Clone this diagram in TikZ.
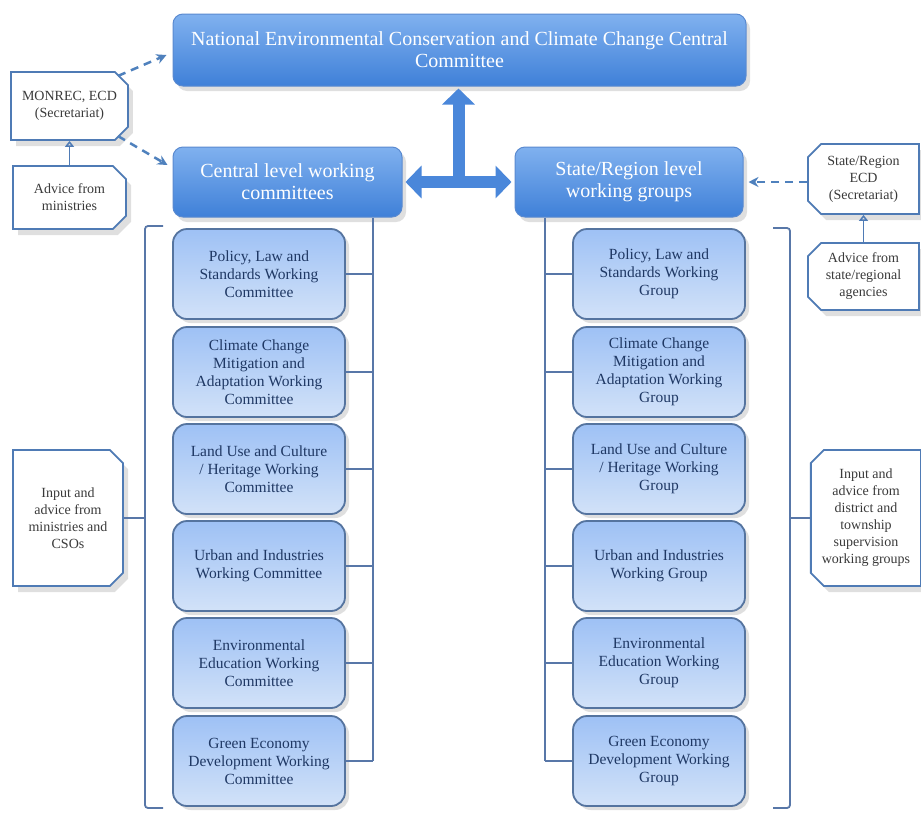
\documentclass[tikz,border=0pt]{standalone}
\usepackage{fontspec}
\setmainfont{Liberation Serif}
\usetikzlibrary{arrows.meta,shapes.misc,shadows,calc}
\definecolor{bigtop}{HTML}{80B1EF}
\definecolor{bigbot}{HTML}{3F80D8}
\definecolor{bigedge}{HTML}{5A8AD0}
\definecolor{subtop}{HTML}{9EC1F5}
\definecolor{subbot}{HTML}{D2E2F8}
\definecolor{subedge}{HTML}{55749F}
\definecolor{subtext}{HTML}{1F3864}
\definecolor{noteedge}{HTML}{4F7BB5}
\definecolor{notetext}{HTML}{3A3A3A}
\definecolor{connc}{HTML}{5877A8}
\definecolor{dashc}{HTML}{4F81BD}
\definecolor{blkc}{HTML}{4A87DA}
\tikzset{
  bigbox/.style={rounded corners=10pt, draw=bigedge, line width=1pt,
    top color=bigtop, bottom color=bigbot, text=white, align=center,
    inner sep=2pt, font=\fontsize{20}{22}\selectfont,
    drop shadow={opacity=0.25, shadow xshift=4pt, shadow yshift=-5pt}},
  subbox/.style={rounded corners=14pt, draw=subedge, line width=1.8pt,
    top color=subtop, bottom color=subbot, text=subtext, align=center,
    minimum width=172pt, minimum height=90pt, inner sep=2pt,
    font=\fontsize{15.5}{18}\selectfont,
    drop shadow={opacity=0.25, shadow xshift=4pt, shadow yshift=-4pt}},
  noteL/.style={chamfered rectangle, chamfered rectangle corners={north east,south east},
    chamfered rectangle xsep=10pt, draw=noteedge, line width=1.8pt, fill=white,
    text=notetext, align=center, inner sep=1pt, font=\fontsize{14}{17}\selectfont,
    drop shadow={opacity=0.25, shadow xshift=5pt, shadow yshift=-6pt}},
  noteR/.style={noteL, chamfered rectangle corners={north west,south west}},
  conn/.style={draw=connc, line width=1.8pt},
  dasharrow/.style={draw=dashc, line width=2.5pt, dash pattern=on 8pt off 6pt,
    -{Stealth[length=10pt,width=10pt]}},
  smallarrow/.style={draw=noteedge, line width=1.6pt, -{Triangle[open,length=6pt,width=9pt]}},
  blk/.style={draw=blkc, line width=12pt},
}
\begin{document}
\begin{tikzpicture}[x=1pt,y=-1pt]
\useasboundingbox (0,0) rectangle (921,812);
\fill[white] (0,0) rectangle (921,812);

% main boxes
\node[bigbox, minimum width=573pt, minimum height=72pt] (nat) at (459.5,50)
  {National Environmental Conservation and Climate Change Central\\Committee};
\node[bigbox, minimum width=229pt, minimum height=70pt] (cen) at (287.5,182)
  {Central level working\\committees};
\node[bigbox, minimum width=228pt, minimum height=70pt] (st) at (629,182)
  {State/Region level\\working groups};

% block arrows
\coordinate (hj) at ($(cen.east)!0.5!(st.west)$);
\draw[blk, -{Triangle[length=16pt,width=32pt]}] (hj) -- ([yshift=-2pt]hj |- nat.south);
\draw[blk, {Triangle[length=16pt,width=32pt]}-{Triangle[length=16pt,width=32pt]}]
  ([xshift=3pt]cen.east) -- ([xshift=-3pt]st.west);

% note boxes
\node[noteL, minimum width=113pt, minimum height=68pt] (mon) at (69.5,106)
  {MONREC, ECD\\(Secretariat)};
\node[noteL, minimum width=113pt, minimum height=63pt] (adv) at (69.5,197.5)
  {Advice from\\ministries};
\node[noteL, minimum width=110pt, minimum height=136pt] (inl) at (68,518)
  {Input and\\advice from\\ministries and\\CSOs};
\node[noteR, minimum width=111pt, minimum height=70pt] (ecd) at (863.5,179)
  {State/Region\\ECD\\(Secretariat)};
\node[noteR, minimum width=111pt, minimum height=67pt] (adv2) at (863.5,276.5)
  {Advice from\\state/regional\\agencies};
\node[noteR, minimum width=108pt, minimum height=136pt] (inr) at (866,518)
  {Input and\\advice from\\district and\\township\\supervision\\working groups};

% dashed and small arrows
\draw[dasharrow] ([xshift=-4pt,yshift=2pt]mon.north east) -- ([xshift=-6pt,yshift=-5pt]nat.west);
\draw[dasharrow] ([xshift=-4pt,yshift=-2pt]mon.south east) -- ([xshift=-5pt,yshift=17pt]cen.west);
\draw[dasharrow] (ecd.west |- st.east) -- ([xshift=5pt]st.east);
\draw[smallarrow] (adv.north) -- (mon.south);
\draw[smallarrow] (adv2.north) -- (ecd.south);

% committee boxes
\node[subbox] (c1) at (259,274) {Policy, Law and\\Standards Working\\Committee};
\node[subbox] (c2) at (259,372) {Climate Change\\Mitigation and\\Adaptation Working\\Committee};
\node[subbox] (c3) at (259,469) {Land Use and Culture\\/ Heritage Working\\Committee};
\node[subbox] (c4) at (259,566) {Urban and Industries\\Working Committee};
\node[subbox] (c5) at (259,663) {Environmental\\Education Working\\Committee};
\node[subbox] (c6) at (259,761) {Green Economy\\Development Working\\Committee};

\node[subbox] (g1) at (659,274) {Policy, Law and\\Standards Working\\Group};
\node[subbox] (g2) at (659,372) {Climate Change\\Mitigation and\\Adaptation Working\\Group};
\node[subbox] (g3) at (659,469) {Land Use and Culture\\/ Heritage Working\\Group};
\node[subbox] (g4) at (659,566) {Urban and Industries\\Working Group};
\node[subbox] (g5) at (659,663) {Environmental\\Education Working\\Group};
\node[subbox] (g6) at (659,761) {Green Economy\\Development Working\\Group};

% buses
\coordinate (lbus) at (373,0);
\coordinate (rbus) at (545,0);
\draw[conn] (cen.south -| lbus) -- (c6.east -| lbus);
\foreach \n in {c1,c2,c3,c4,c5,c6} \draw[conn] (\n.east) -- (\n.east -| lbus);
\draw[conn] (st.south -| rbus) -- (g6.west -| rbus);
\foreach \n in {g1,g2,g3,g4,g5,g6} \draw[conn] (\n.west) -- (\n.west -| rbus);

% brackets
\coordinate (lbt) at (145,226);
\coordinate (lbb) at (145,808);
\draw[conn, rounded corners=3pt] ([xshift=18pt]lbt) -- (lbt) -- (lbb) -- ([xshift=18pt]lbb);
\draw[conn] (inl.east) -- (inl.east -| lbt);
\coordinate (rbt) at (790,228);
\coordinate (rbb) at (790,808);
\draw[conn, rounded corners=3pt] ([xshift=-17pt]rbt) -- (rbt) -- (rbb) -- ([xshift=-17pt]rbb);
\draw[conn] (inr.west) -- (inr.west -| rbt);
\end{tikzpicture}
\end{document}
